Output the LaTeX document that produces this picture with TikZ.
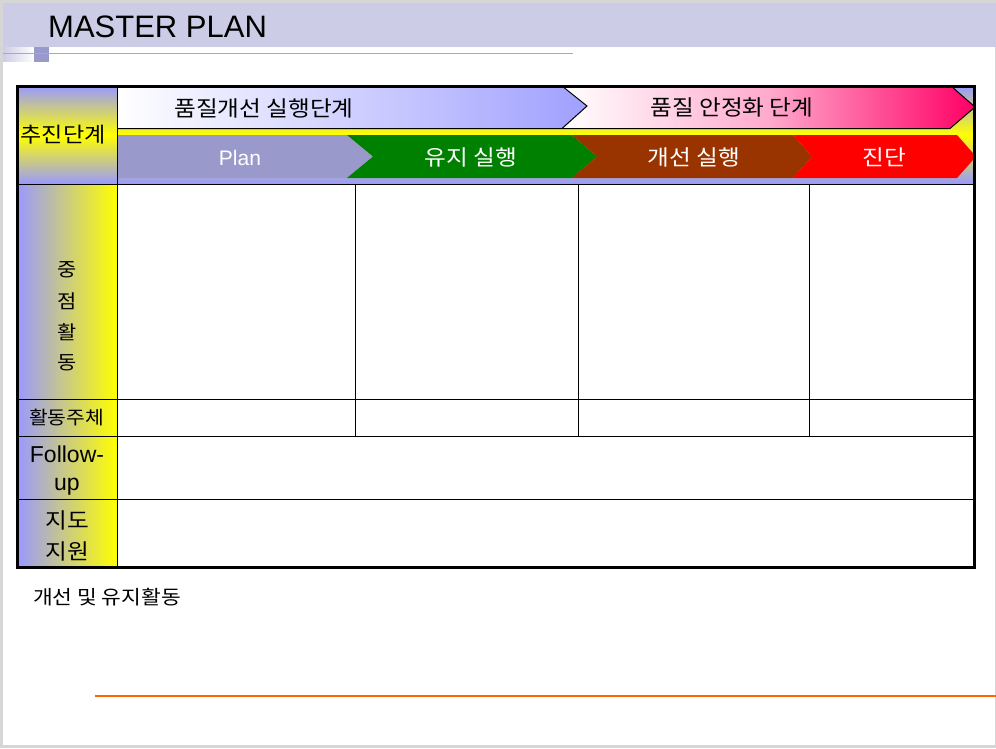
\documentclass[tikz,border=0pt]{standalone}
\usepackage{fontspec}
\setmainfont{Liberation Sans}
\newfontfamily\krfont[FakeStretch=1.1]{Noto Sans CJK KR}
\newcommand\fsz[1]{\fontsize{#1}{#1}\selectfont}
\definecolor{framegray}{RGB}{214,214,214}
\definecolor{band}{RGB}{204,204,230}
\definecolor{sqpurple}{RGB}{153,153,204}
\definecolor{lineorange}{RGB}{240,160,48}
\definecolor{botorange}{RGB}{255,102,0}
\definecolor{lav}{RGB}{153,153,255}
\definecolor{chevblue}{RGB}{160,160,255}
\definecolor{pinkmid}{RGB}{255,170,205}
\definecolor{pinkdeep}{RGB}{255,0,102}
\definecolor{plancol}{RGB}{153,153,204}
\definecolor{greencol}{RGB}{0,128,0}
\definecolor{browncol}{RGB}{153,51,0}
\definecolor{redcol}{RGB}{255,0,0}
\begin{document}
\begin{tikzpicture}[x=1pt,y=-1pt,
  kr/.style={font={\krfont\fsz{#1}}, inner sep=0pt},
  lat/.style={font={\fsz{#1}}, inner sep=0pt},
  gridline/.style={black, line width=1pt},
  chevline/.style={black, line width=1pt, line join=miter}]
\useasboundingbox (0,0) rectangle (996,748);
% page frame
\fill[framegray] (0,0) rectangle (996,748);
\fill[white] (3,3) rectangle (994.5,745);
% title band
\fill[band] (3,3) rectangle (996,47);
\node[lat=31, anchor=west] (title) at (48,26.5) {MASTER PLAN};
\shade[left color=band, right color=white] (3,47) rectangle (34,61);
\fill[sqpurple] (34,47) rectangle (49,62);
\draw[lineorange, line width=1pt] (3,53) -- (573,53);
% header row background
\shade[top color=lav, bottom color=lav, middle color=yellow] (17.5,86) rectangle (974,184);
% left column background
\shade[left color=lav, right color=yellow] (17.5,184) rectangle (117,567);
% upper chevrons
\shade[left color=white, right color=chevblue] (117,86) -- (562,86) -- (587,106) -- (562,128.5) -- (117,128.5) -- cycle;
\shade[left color=white, right color=pinkdeep, middle color=pinkmid] (562,86) -- (951,86) -- (975,107) -- (950,128.5) -- (562,128.5) -- (587,106) -- cycle;
\draw[chevline] (117,128.5) -- (562,128.5) -- (587,106) -- (562,86);
\draw[chevline] (562,128.5) -- (950,128.5) -- (975,107) -- (951,86);
% lower chevrons
\fill[plancol] (117,135) -- (347,135) -- (373,156.5) -- (347,178) -- (117,178) -- cycle;
\fill[greencol] (347,135) -- (572,135) -- (597,156.5) -- (572,178) -- (347,178) -- (373,156.5) -- cycle;
\fill[browncol] (572,135) -- (793,135) -- (812,156.5) -- (793,178) -- (572,178) -- (597,156.5) -- cycle;
\fill[redcol] (793,135) -- (957,135) -- (976,156.5) -- (957,178) -- (793,178) -- (812,156.5) -- cycle;
% header texts
\node[kr=21.5] (up1) at (264,108) {품질개선 실행단계};
\node[kr=21.5] (up2) at (732,107) {품질 안정화 단계};
\node[lat=21, white] (plan) at (240,158.3) {Plan};
\node[kr=21.5, white] (keep) at (471,157.5) {유지 실행};
\node[kr=21.5, white] (impr) at (694,157.5) {개선 실행};
\node[kr=21.5, white] (diag) at (884,157.5) {진단};
\node[kr=21] (stage) at (63,135) {추진단계};
% grid lines
\draw[gridline] (117,86) -- (117,567);
\draw[gridline] (17.5,184) -- (974,184);
\draw[gridline] (17.5,399) -- (974,399);
\draw[gridline] (17.5,436) -- (974,436);
\draw[gridline] (17.5,499) -- (974,499);
\draw[gridline] (355.5,184) -- (355.5,436);
\draw[gridline] (578.5,184) -- (578.5,436);
\draw[gridline] (809.5,184) -- (809.5,436);
% outer border
\draw[black, line width=3pt] (17.5,86) rectangle (974,567);
% left column texts
\node[kr=19] (c1) at (67,270) {중};
\node[kr=19] (c2) at (67,301) {점};
\node[kr=19] (c3) at (67,332) {활};
\node[kr=19] (c4) at (67,363) {동};
\node[kr=18.5] (actor) at (66.5,417.5) {활동주체};
\node[lat=23, anchor=base] (fol1) at (67,462.5) {Follow-};
\node[lat=23, anchor=base] (fol2) at (67,490) {up};
\node[kr=21.5] (sup1) at (67.5,520) {지도};
\node[kr=21.5] (sup2) at (67.5,551) {지원};
% footer
\node[kr=19.5, anchor=west] (note) at (33,597) {개선 및 유지활동};
\draw[botorange, line width=1.5pt] (95,696) -- (996,696);
\end{tikzpicture}
\end{document}
